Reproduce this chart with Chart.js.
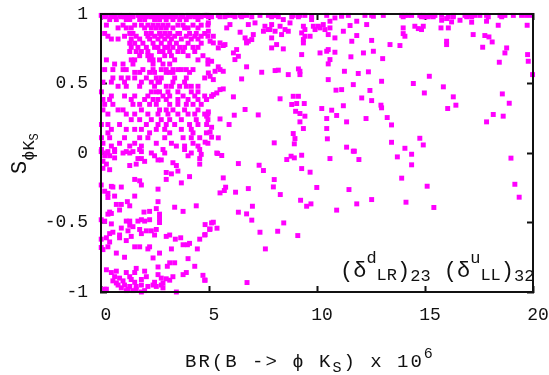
<!DOCTYPE html>
<html>
<head>
<meta charset="utf-8">
<script src="https://cdn.jsdelivr.net/npm/chart.js"></script>
<style>
  html, body { margin: 0; padding: 0; background: #fff; }
  canvas { display: block; }
</style>
</head>
<body>
<canvas id="chart" width="549" height="375"></canvas>
<script>
// axis ranges and ticks
const xTickValues = [0, 5, 10, 15, 20];
const yTickValues = [-1, -0.5, 0, 0.5, 1];

// scatter points [BR x 10^6, S]
const upperLeft = [
  [0.01,0.99],[0.25,0.99],[0.48,0.99],[0.63,0.99],[0.86,0.99],[1.02,0.99],[1.25,0.99],[1.40,0.99],[1.71,0.99],[1.94,0.99],[2.17,0.99],[2.41,0.99],[2.64,0.99],[2.87,0.99],[3.10,0.99],[3.26,0.99],[3.49,0.99],[3.72,0.99],[4.03,0.99],[4.26,0.99],[4.49,0.99],[4.80,0.99],[4.95,0.99],
  [0.17,0.98],[0.55,0.98],[0.94,0.98],[1.09,0.98],[1.48,0.98],[1.87,0.98],[2.10,0.98],[2.33,0.98],[2.56,0.98],[2.79,0.98],[2.95,0.98],[3.18,0.98],[3.41,0.98],[3.80,0.98],[4.10,0.98],[4.34,0.98],[4.64,0.98],
  [0.40,0.96],[0.71,0.96],[1.17,0.96],[1.33,0.96],[1.79,0.96],[2.02,0.96],[2.48,0.96],[2.71,0.96],[3.02,0.96],[3.33,0.96],[3.64,0.96],[3.95,0.96],[4.49,0.96],
  [0.25,0.92],[1.02,0.92],[1.56,0.92],[1.87,0.92],[2.17,0.92],[2.41,0.92],[2.64,0.92],[2.87,0.92],[3.10,0.92],[3.56,0.92],[3.80,0.92],[4.26,0.92],[4.64,0.92],[4.95,0.92],
  [0.79,0.90],[1.17,0.90],[1.40,0.90],[2.02,0.90],[2.33,0.90],[2.56,0.90],[2.79,0.90],[3.02,0.90],[3.33,0.90],[3.87,0.90],[4.03,0.90],[4.49,0.90],
  [0.17,0.86],[1.33,0.86],[1.48,0.86],[2.10,0.86],[2.33,0.86],[2.71,0.86],[2.95,0.86],[3.18,0.86],[3.56,0.86],[3.64,0.86],[4.10,0.86],[4.41,0.86],[4.80,0.86],
  [0.32,0.84],[1.09,0.84],[1.63,0.84],[2.17,0.84],[2.48,0.84],[2.79,0.84],[3.10,0.84],[3.41,0.84],[3.95,0.84],[4.34,0.84],[4.64,0.84],[4.95,0.84],
  [0.48,0.82],[0.79,0.82],[1.40,0.82],[1.79,0.82],[2.25,0.82],[2.64,0.82],[2.95,0.82],[3.26,0.82],[3.72,0.82],[4.18,0.82],[4.49,0.82],
  [1.33,0.79],[1.56,0.79],[1.94,0.79],[2.41,0.79],[2.79,0.79],[3.18,0.79],[3.49,0.79],[4.03,0.79],[4.64,0.79],
  [1.40,0.76],[1.71,0.76],[2.10,0.76],[2.48,0.76],[2.64,0.76],[2.95,0.76],[3.10,0.76],[3.33,0.76],[3.64,0.76],[3.87,0.76],[4.26,0.76],[4.49,0.76],
  [1.33,0.73],[1.63,0.73],[1.87,0.73],[2.17,0.73],[2.71,0.73],[2.87,0.73],[3.18,0.73],[3.56,0.73],[3.80,0.73],[4.34,0.73],
  [1.79,0.70],[2.17,0.70],[2.33,0.70],[2.95,0.70],[3.26,0.70],[4.03,0.70],[4.72,0.70],
  [0.25,0.67],[1.40,0.67],[1.56,0.67],[2.25,0.67],[2.41,0.67],[2.71,0.67],[3.41,0.67],[4.49,0.67],[4.95,0.67],
  [0.63,0.64],[1.02,0.64],[1.48,0.64],[2.41,0.64],[2.87,0.64],[3.18,0.64],[4.95,0.64],
  [0.17,0.60],[0.55,0.60],[1.02,0.60],[1.17,0.60],[1.94,0.60],[2.41,0.60],[2.79,0.60],[3.02,0.60],[3.33,0.60],[3.56,0.60],[3.72,0.60],[3.95,0.60],[4.26,0.60],
  [1.56,0.58],[1.79,0.58],[2.25,0.58],[2.48,0.58],[3.02,0.58],[3.18,0.58],[3.33,0.58],[4.10,0.58],
  [0.55,0.54],[0.94,0.54],[1.25,0.54],[1.56,0.54],[2.10,0.54],[2.56,0.54],[2.79,0.54],[3.41,0.54],[3.95,0.54],[4.80,0.54],
  [0.09,0.51],[0.48,0.51],[1.09,0.51],[1.87,0.51],[2.33,0.51],[2.64,0.51],[2.71,0.51],[3.33,0.51],[3.87,0.51],
  [0.79,0.48],[1.17,0.48],[1.79,0.48],[2.48,0.48],[3.02,0.48],[3.26,0.48],[3.64,0.48],[3.95,0.48],[4.18,0.48],[4.49,0.48],
  [0.02,0.44],[2.33,0.44],[2.56,0.44],[2.71,0.44],[3.10,0.44],[3.56,0.44],[4.18,0.44],[4.49,0.44],
  [0.48,0.41],[1.09,0.41],[1.56,0.41],[2.17,0.41],[2.87,0.41],[3.18,0.41],[3.80,0.41],[4.34,0.41],[4.80,0.41],
  [0.09,0.385],[0.40,0.385],[1.40,0.385],[2.02,0.385],[2.41,0.385],[2.64,0.385],[3.02,0.385],[3.56,0.385],[4.03,0.385],[4.49,0.385],[4.88,0.385],
  [0.17,0.35],[0.55,0.35],[1.48,0.35],[1.79,0.35],[2.25,0.35],[2.56,0.35],[3.18,0.35],[3.56,0.35],[3.95,0.35],[4.26,0.35],[4.64,0.35],
  [0.09,0.31],[0.79,0.31],[1.02,0.31],[1.87,0.31],[2.71,0.31],[3.02,0.31],[3.33,0.31],[3.87,0.31],[4.49,0.31],
  [0.32,0.28],[1.17,0.28],[1.56,0.28],[2.17,0.28],[2.64,0.28],[3.10,0.28],[3.56,0.28],[4.03,0.28],[4.34,0.28],[4.80,0.28],[4.95,0.28],
  [1.40,0.24],[1.79,0.24],[2.33,0.24],[2.79,0.24],[3.18,0.24],[3.72,0.24],[4.41,0.24],[4.95,0.24],
  [0.02,0.205],[0.32,0.205],[0.86,0.205],[2.10,0.205],[2.64,0.205],[3.02,0.205],[3.41,0.205],[4.10,0.205],[4.49,0.205],
  [0.48,0.17],[1.17,0.17],[1.56,0.17],[1.87,0.17],[2.56,0.17],[2.95,0.17],[3.72,0.17],[4.18,0.17],
  [0.32,0.145],[2.25,0.145],[3.18,0.145],[4.26,0.145],[4.88,0.145],
  [0.02,0.11],[0.40,0.11],[1.09,0.11],[1.79,0.11],[2.17,0.11],[2.95,0.11],[3.80,0.11],[4.18,0.11],[4.57,0.11],
  [0.09,0.07],[0.86,0.07],[1.56,0.07],[2.56,0.07],[3.26,0.07],[4.26,0.07],[4.95,0.07],
  [0.48,0.05],[1.33,0.05],[1.87,0.05],[3.49,0.05],[3.87,0.05],[4.49,0.05],
  [0.02,0.025],[0.63,0.025],[1.79,0.025],[2.87,0.025],[3.87,0.025],[4.57,0.025],
  [0.25,0.0],[1.02,0.0],[1.33,0.0],[2.33,0.0],[2.95,0.0],[4.18,0.0]
];

const lowerLeft = [
  [0.01,0.01],[0.32,0.01],[0.63,0.01],[1.17,0.01],[1.48,0.01],[1.87,0.01],
  [0.17,-0.02],[0.40,-0.02],[0.63,-0.035],[1.71,-0.04],[1.87,-0.04],[2.02,-0.06],[2.64,-0.05],[2.79,-0.05],[2.48,-0.02],[4.03,-0.02],[4.57,-0.04],[4.64,-0.01],
  [0.09,-0.06],[0.25,-0.08],[1.33,-0.09],[1.63,-0.08],[3.33,-0.07],[3.49,-0.09],[0.09,-0.11],[0.40,-0.12],[3.56,-0.13],[3.02,-0.14],[3.26,-0.15],[4.10,-0.17],[4.57,-0.08],
  [1.56,-0.19],[1.79,-0.20],[1.87,-0.23],[3.02,-0.19],[3.72,-0.215],[0.01,-0.23],[0.48,-0.24],[0.55,-0.245],[0.94,-0.245],[0.17,-0.275],[0.32,-0.29],[0.63,-0.31],[2.64,-0.26],[1.56,-0.31],[0.32,-0.32],
  [0.71,-0.37],[0.94,-0.37],[1.22,-0.35],[1.33,-0.38],[2.64,-0.35],[0.86,-0.41],[0.40,-0.425],[0.32,-0.44],[0.48,-0.435],[1.99,-0.425],[2.25,-0.42],[2.56,-0.40],[2.71,-0.44],[3.41,-0.39],[3.80,-0.42],[4.41,-0.38],
  [0.01,-0.48],[0.17,-0.49],[0.48,-0.51],[1.17,-0.49],[1.33,-0.49],[1.71,-0.49],[1.87,-0.48],[2.02,-0.49],[2.25,-0.48],[2.71,-0.47],[2.71,-0.50],[1.33,-0.52],[0.94,-0.54],[1.48,-0.53],[1.79,-0.55],[2.10,-0.56],[2.33,-0.56],[2.56,-0.55],
  [0.55,-0.57],[0.40,-0.58],[0.25,-0.61],[0.86,-0.59],[1.25,-0.56],[1.40,-0.60],[1.87,-0.58],[2.48,-0.59],[3.02,-0.60],[3.18,-0.59],[3.44,-0.62],[3.69,-0.61],[4.10,-0.65],[4.57,-0.62],[4.80,-0.59],[5.03,-0.55],
  [0.01,-0.62],[0.86,-0.61],[1.17,-0.63],[0.40,-0.64],[1.56,-0.675],[1.79,-0.675],[2.17,-0.69],[2.25,-0.675],[3.26,-0.69],[0.01,-0.68],[0.09,-0.695],[3.80,-0.66],[4.00,-0.66],[4.46,-0.69],[0.32,-0.675],
  [0.71,-0.72],[1.09,-0.75],[2.71,-0.72],[2.41,-0.755],[3.18,-0.79],[3.41,-0.79],[3.07,-0.815],[4.03,-0.76],[2.64,-0.82],[4.34,-0.815],
  [0.25,-0.84],[0.48,-0.86],[0.71,-0.85],[1.17,-0.86],[1.33,-0.89],[1.56,-0.86],[1.63,-0.83],[2.02,-0.85],[2.64,-0.875],[2.79,-0.90],[3.02,-0.905],[3.33,-0.89],[3.80,-0.875],[3.95,-0.86],[4.72,-0.88],[4.80,-0.915],
  [0.63,-0.89],[0.86,-0.90],[1.02,-0.92],[1.40,-0.91],[1.56,-0.93],[1.87,-0.91],[2.10,-0.89],[2.48,-0.93],[2.87,-0.935],[3.18,-0.915],
  [0.79,-0.95],[1.09,-0.95],[1.33,-0.96],[1.63,-0.96],[1.87,-0.95],[2.17,-0.96],[2.41,-0.95],[2.79,-0.95],
  [0.25,-0.98],[0.94,-0.97],[1.25,-0.98],[1.63,-0.98],[2.02,-0.99],[2.56,-0.96],[2.87,-0.97],[1.17,-0.99],[1.48,-0.99],[1.87,-1.0],[3.49,-1.0],[0.17,-0.98],[0.71,-0.935],[0.55,-0.92]
];

const upperMid = [
  [4.89,0.99],[5.43,0.99],[5.82,0.99],[5.97,0.99],[6.13,0.99],[6.44,0.99],[6.59,0.99],[6.74,0.99],[7.36,0.99],[7.75,0.99],[7.98,0.99],[8.13,0.99],[8.90,0.99],[9.21,0.99],[9.44,0.99],[10.45,0.99],[11.14,0.99],[11.45,0.99],[12.22,0.99],[12.53,0.99],
  [4.97,0.98],[5.12,0.98],[5.51,0.98],[5.74,0.98],[6.20,0.98],[6.51,0.98],[6.98,0.98],[7.90,0.98],[8.21,0.98],[8.83,0.98],[9.14,0.98],[9.75,0.98],
  [4.97,0.936],[5.97,0.924],[5.82,0.90],[6.82,0.924],[7.13,0.936],[7.59,0.912],[7.82,0.888],[7.90,0.924],[8.29,0.912],[8.52,0.888],[8.75,0.936],[8.44,0.96],[9.37,0.912],[9.44,0.888],[9.75,0.96],[9.83,0.912],[10.06,0.912],[10.29,0.924],[10.60,0.948],[10.37,0.888],[10.60,0.90],[10.83,0.972],[11.14,0.984],[11.53,0.917],[11.84,0.948],[12.30,0.924],[12.61,0.984],
  [4.97,0.876],[5.20,0.84],[5.05,0.804],[6.44,0.869],[6.74,0.804],[6.67,0.828],[7.05,0.852],[6.98,0.816],[7.52,0.876],[7.75,0.888],[8.06,0.876],[8.36,0.852],[8.67,0.876],[9.29,0.864],[9.44,0.84],[9.37,0.816],[9.68,0.84],[9.91,0.888],[10.14,0.90],[10.52,0.852],[10.83,0.828],[11.22,0.876],[11.61,0.804],[11.84,0.845],[12.53,0.81],
  [5.20,0.792],[5.51,0.792],[5.66,0.773],[5.74,0.78],[5.43,0.756],[6.13,0.72],[6.28,0.744],[6.36,0.696],[6.20,0.672],[6.74,0.792],[6.82,0.804],[7.90,0.828],[8.13,0.78],[7.90,0.756],[8.44,0.749],[9.37,0.792],[9.29,0.708],[10.14,0.72],[10.45,0.732],[10.52,0.744],[10.83,0.725],[10.60,0.672],[10.52,0.641],[11.57,0.692],[12.15,0.72],[12.61,0.732],[11.27,0.588],[11.91,0.572],[12.38,0.584],
  [5.12,0.66],[4.97,0.576],[5.05,0.552],[5.28,0.588],[5.43,0.62],[5.51,0.60],[5.66,0.588],[5.20,0.528],[6.51,0.533],[6.74,0.62],[7.44,0.581],[8.06,0.593],[8.21,0.596],[8.67,0.564],[9.14,0.605],[9.21,0.588],[9.21,0.564],[10.52,0.528],
  [5.51,0.456],[5.66,0.461],[5.36,0.432],[5.20,0.42],[5.12,0.408],[4.89,0.385],[6.13,0.404],[8.29,0.39],[8.90,0.408],[9.14,0.408],[8.83,0.349],[9.06,0.356],[9.41,0.356],[9.01,0.30],[9.21,0.284],[9.44,0.265],[10.22,0.32],[10.68,0.308],[10.91,0.27],[11.22,0.34],[12.07,0.396],[12.53,0.377],[12.45,0.45],[10.88,0.452],[11.14,0.456],[11.68,0.492],
  [4.97,0.296],[4.89,0.265],[6.67,0.313],[6.17,0.272],[5.51,0.245],[7.28,0.274],[4.89,0.205],[5.12,0.185],[5.05,0.15],[5.93,0.205],[5.43,0.109],[5.12,0.114],[8.02,0.073],[8.90,0.14],[8.98,0.104],[8.95,0.066],[9.21,0.224],[9.37,0.176],[10.45,0.248],[10.45,0.176],[10.48,0.102],[11.37,0.224],[12.27,0.248],[11.37,0.042],[11.68,0.013],[5.36,0.0],[4.82,0.078]
];

const lowerMid = [
  [5.40,-0.004],[5.59,-0.018],[6.36,-0.076],[7.32,-0.088],[7.52,-0.126],[8.60,-0.047],[8.80,-0.023],[8.95,-0.035],[9.29,-0.016],[9.29,-0.112],[9.68,-0.138],[10.60,-0.04],[11.73,0.013],[11.94,-0.047],
  [5.66,-0.179],[5.77,-0.246],[5.71,-0.27],[5.51,-0.287],[6.23,-0.282],[6.82,-0.256],[8.02,-0.191],[7.98,-0.244],[8.30,-0.299],[9.24,-0.34],[9.72,-0.366],[9.52,-0.383],[9.99,-0.248],[11.48,-0.263],[11.84,-0.366],
  [10.91,-0.411],[6.36,-0.426],[6.74,-0.438],[7.01,-0.383],[6.98,-0.483],[7.36,-0.57],[8.18,-0.563],[8.46,-0.503],[9.11,-0.594],[7.61,-0.69],
  [5.20,-0.498],[5.05,-0.546],[5.37,-0.541],[5.12,-0.503],[4.82,-0.515],[4.82,-0.587],[6.76,-0.932],[4.82,-0.915]
];

const rightSide = [
  [13.07,0.99],[13.92,0.99],[14.07,0.99],[14.22,0.99],[14.38,0.99],[14.76,0.99],[14.92,0.99],[15.23,0.99],[15.46,0.99],[15.77,0.99],[16.31,0.99],[16.85,0.99],[17.08,0.99],[17.31,0.99],[17.54,0.99],[17.85,0.99],[18.47,0.99],[18.70,0.99],[19.09,0.99],[19.47,0.99],[19.70,0.99],[19.93,0.99],
  [13.99,0.98],[14.84,0.98],[15.00,0.98],[15.15,0.98],[15.38,0.98],[16.08,0.98],[16.31,0.98],[16.93,0.98],[17.16,0.98],[17.93,0.98],[18.55,0.98],
  [15.77,0.955],[16.00,0.967],[16.23,0.943],[16.62,0.955],[17.16,0.941],[17.85,0.948],[14.53,0.912],[14.69,0.895],[14.84,0.888],[14.92,0.912],[13.99,0.90],[15.74,0.90],[16.08,0.90],[18.39,0.919],[19.73,0.919],
  [13.99,0.859],[14.07,0.84],[13.38,0.78],[13.84,0.773],[16.00,0.804],[16.00,0.78],[17.23,0.852],[17.77,0.845],[17.96,0.835],[18.11,0.799],[17.67,0.761],[18.78,0.756],[18.70,0.72],[18.44,0.653],[19.75,0.708],[19.78,0.66],[19.98,0.564],
  [13.04,0.679],[12.99,0.516],[14.46,0.50],[15.20,0.552],[15.85,0.476],[14.97,0.432],[16.31,0.404],[16.43,0.344],[16.05,0.32],[18.58,0.425],[18.90,0.358],
  [12.96,0.344],[12.99,0.325],[13.25,0.255],[13.45,0.202],[18.16,0.277],[17.85,0.224],[18.62,0.265],
  [13.45,0.077],[14.07,0.034],[14.76,0.106],[14.92,0.058],[14.38,-0.009],[13.72,-0.028],[14.38,-0.085],[13.92,-0.181],[15.10,-0.239],[14.12,-0.354],[15.41,-0.392],
  [18.98,-0.037],[19.16,-0.225],[19.36,-0.318],[12.53,-0.335]
];

const allPoints = [...upperLeft, ...lowerLeft, ...upperMid, ...lowerMid, ...rightSide];

const FONT = '"Liberation Mono", "DejaVu Sans Mono", monospace';
const INK = '#111';

// draws a run of text pieces (normal / sub / superscript) left to right
function drawRun(ctx, x, y, parts) {
    parts.forEach(p => {
        ctx.font = p.size + 'px ' + FONT;
        ctx.fillText(p.t, x, y + (p.dy || 0));
        x += ctx.measureText(p.t).width;
    });
}

// axis titles, the label in the corner, and the box drawn once more on top of the points
const titlesPlugin = {
    id: 'titlesPlugin',
    afterDraw(chart) {
        const ctx = chart.ctx;
        const a = chart.chartArea;
        ctx.save();
        ctx.strokeStyle = INK;
        ctx.lineWidth = 2;
        ctx.beginPath();
        ctx.rect(a.left, a.top, a.width, a.height);
        ctx.stroke();

        ctx.fillStyle = INK;
        ctx.textBaseline = 'alphabetic';
        ctx.textAlign = 'left';
        if ('letterSpacing' in ctx) ctx.letterSpacing = '2px';
        drawRun(ctx, 185, 367, [
            { t: 'BR(B -> \u03d5 K', size: 19 },
            { t: 'S', size: 15, dy: 5 },
            { t: ') x 10', size: 19 },
            { t: '6', size: 15, dy: -9 }
        ]);
        if ('letterSpacing' in ctx) ctx.letterSpacing = '0px';
        drawRun(ctx, 340, 277, [
            { t: '(\u03b4', size: 22 },
            { t: 'd', size: 17, dy: -14 },
            { t: 'LR', size: 17, dy: 3 },
            { t: ')', size: 22 },
            { t: '23', size: 17, dy: 4 },
            { t: ' (\u03b4', size: 22 },
            { t: 'u', size: 17, dy: -14 },
            { t: 'LL', size: 17, dy: 3 },
            { t: ')', size: 22 },
            { t: '32', size: 17, dy: 4 }
        ]);
        ctx.translate(26, 174);
        ctx.rotate(-Math.PI / 2);
        drawRun(ctx, 0, 0, [
            { t: 'S', size: 22 },
            { t: '\u03d5K', size: 17, dy: 8 },
            { t: 'S', size: 12, dy: 12 }
        ]);
        ctx.restore();
    }
};

// shared look for the four sides of the frame: dark border, short inward ticks
const frameBorder = { display: true, color: INK, width: 2 };
const frameGrid = { display: true, drawOnChartArea: false, drawTicks: true, tickLength: -6, tickWidth: 2, tickColor: INK };
const tickFont = { family: FONT, size: 18 };

const chart = new Chart(document.getElementById('chart'), {
    type: 'scatter',
    data: {
        datasets: [{
            data: allPoints.map(([x, y]) => ({ x, y })),
            backgroundColor: '#ff00ff',
            borderWidth: 0,
            pointStyle: 'rect',
            pointRadius: 3.5,
            clip: 4
        }]
    },
    options: {
        responsive: false,
        animation: false,
        devicePixelRatio: 1,
        layout: { padding: { top: 14, right: 16, left: 0, bottom: 0 } },
        plugins: { legend: { display: false }, tooltip: { enabled: false } },
        scales: {
            x: {
                type: 'linear', position: 'bottom',
                min: 0, max: 20,
                afterBuildTicks: s => { s.ticks = xTickValues.map(v => ({ value: v })); },
                afterFit: s => { s.height = 83; s.paddingLeft = 0; s.paddingRight = 0; },
                grid: frameGrid,
                border: frameBorder,
                ticks: {
                    padding: 18, labelOffset: 5, maxRotation: 0, autoSkip: false,
                    color: INK, font: tickFont,
                    callback: v => String(v)
                }
            },
            x2: {
                type: 'linear', position: 'top',
                min: 0, max: 20,
                afterBuildTicks: s => { s.ticks = xTickValues.map(v => ({ value: v })); },
                afterFit: s => { s.height = 0; s.paddingLeft = 0; s.paddingRight = 0; },
                grid: frameGrid,
                border: frameBorder,
                ticks: { display: false }
            },
            y: {
                type: 'linear', position: 'left',
                min: -1, max: 1,
                afterBuildTicks: s => { s.ticks = yTickValues.map(v => ({ value: v })); },
                afterFit: s => { s.width = 101; s.paddingTop = 0; s.paddingBottom = 0; },
                grid: frameGrid,
                border: frameBorder,
                ticks: {
                    padding: 19, autoSkip: false,
                    color: INK, font: tickFont,
                    callback: v => String(v)
                }
            },
            y2: {
                type: 'linear', position: 'right',
                min: -1, max: 1,
                afterBuildTicks: s => { s.ticks = yTickValues.map(v => ({ value: v })); },
                afterFit: s => { s.width = 0; s.paddingTop = 0; s.paddingBottom = 0; },
                grid: frameGrid,
                border: frameBorder,
                ticks: { display: false }
            }
        }
    },
    plugins: [titlesPlugin]
});
</script>
</body>
</html>
